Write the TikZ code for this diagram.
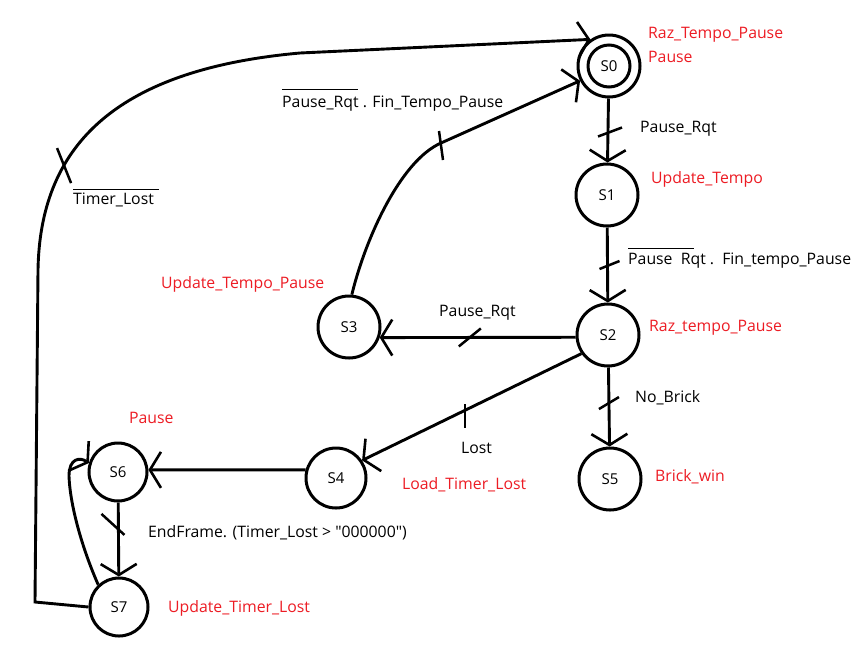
\documentclass[tikz,border=0pt]{standalone}
\usepackage{fontspec}
\setmainfont{Open Sans}[Ligatures=TeXOff]
\usetikzlibrary{arrows.meta,calc}
\definecolor{pred}{RGB}{237,28,36}
\newcommand{\ovl}[3]{\rlap{\raisebox{#2}{\rule{#1}{0.8pt}}}#3}
\begin{document}
\begin{tikzpicture}[x=1pt,y=-1pt,
  st/.style={circle,draw,line width=3pt,minimum size=62pt,inner sep=0pt,font=\fontsize{15}{17}\selectfont},
  edge/.style={line width=2.9pt,-{Straight Barb[length=11pt,width=36pt,line width=2.6pt]}},
  tk/.style={line width=2.5pt},
  lbl/.style={anchor=west,inner sep=0pt,font=\fontsize{15.8}{18}\selectfont},
  act/.style={lbl,text=pred}]
\useasboundingbox (0,0) rectangle (864,649);
\fill[white] (0,0) rectangle (864,649);
% states
\node[st] (S0) at (609,66) {S0};
\node[circle,draw,line width=3pt,minimum size=42pt,inner sep=0pt] (S0i) at (S0) {};
\node[st] (S1) at (607,195) {S1};
\node[st] (S2) at (608,335) {S2};
\node[st] (S3) at (349,327) {S3};
\node[st,minimum size=60pt] (S4) at (336,478) {S4};
\node[st] (S5) at (610,479) {S5};
\node[st,minimum size=58pt] (S6) at (118,472) {S6};
\node[st,minimum size=58pt] (S7) at (119,607) {S7};
% transitions
\draw[edge] (S0) -- coordinate[pos=0.5] (t01) (S1);
\draw[tk] ($(t01)+(-10,6)$) -- ($(t01)+(14,-3)$);
\draw[edge] (S1) -- coordinate[pos=0.5] (t12) (S2);
\draw[tk] ($(t12)+(-8,4)$) -- ($(t12)+(12,-4)$);
\draw[edge] (S2) -- coordinate[pos=0.45] (t25) (S5);
\draw[tk] ($(t25)+(-10,6)$) -- ($(t25)+(10,-6)$);
\draw[edge] (S2.184) -- coordinate[pos=0.54] (t23) (S3.-19);
\draw[tk] ($(t23)+(-11,9)$) -- ($(t23)+(11,-9)$);
\draw[edge] (S2.215) -- coordinate[pos=0.53] (t24) (S4.34);
\draw[tk] ($(t24)+(0,-6)$) -- ($(t24)+(0,18)$);
\draw[edge] (S4.165) -- (S6.4);
\draw[edge] (S6) -- coordinate[pos=0.37] (t67) (S7);
\draw[tk] ($(t67)+(-17,-16)$) -- ($(t67)+(6,5)$);
\draw[edge] (S7.133) .. controls (82,548) and (70,505) .. (69,476)
  .. controls (69,458) and (80,457) .. (S6.163);
\draw[edge] (S3.85) .. controls (365,240) and (400,161) .. (441,143) coordinate (t30) -- (S0.207);
\draw[tk] ($(t30)+(-2,-12)$) -- ($(t30)+(2,17)$);
\draw[edge] (S7.west) -- (35,602) -- (38,270)
  .. controls (40,150) and (110,70) .. (300,53) coordinate[pos=0.33] (t70)
  -- (S0.125);
\draw[tk] ($(t70)+(-7,-17)$) -- ($(t70)+(7,18)$);
% labels
\node[act] (a0) at (648,35) {Raz\_Tempo\_Pause};
\node[act] (a0b) at (648,57) {Pause};
\node[lbl] (c01) at (640,129) {Pause\_Rqt};
\node[act] (a1) at (651,179) {Update\_Tempo};
\node[lbl] (c12) at (628,258) {\ovl{66pt}{16pt}{Pause\ \ Rqt}\ .\ \ Fin\_tempo\_Pause};
\node[act] (a2) at (649,328) {Raz\_tempo\_Pause};
\node[lbl] (c25) at (635,398) {No\_Brick};
\node[act] (a5) at (655,477) {Brick\_win};
\node[lbl] (c23) at (439,313) {Pause\_Rqt};
\node[act] (a3) at (161,284) {Update\_Tempo\_Pause};
\node[lbl] (c30) at (282,100) {\ovl{76pt}{18pt}{Pause\_Rqt} . Fin\_Tempo\_Pause};
\node[lbl] (c70) at (73,198) {\ovl{86pt}{14pt}{Timer\_Lost}};
\node[lbl] (c24) at (461,448) {Lost};
\node[act] (a4) at (402,485) {Load\_Timer\_Lost};
\node[act] (a6) at (129,418) {Pause};
\node[lbl] (c67) at (148,533) {EndFrame. (Timer\_Lost > "000000")};
\node[act] (a7) at (168,608) {Update\_Timer\_Lost};
\end{tikzpicture}
\end{document}
